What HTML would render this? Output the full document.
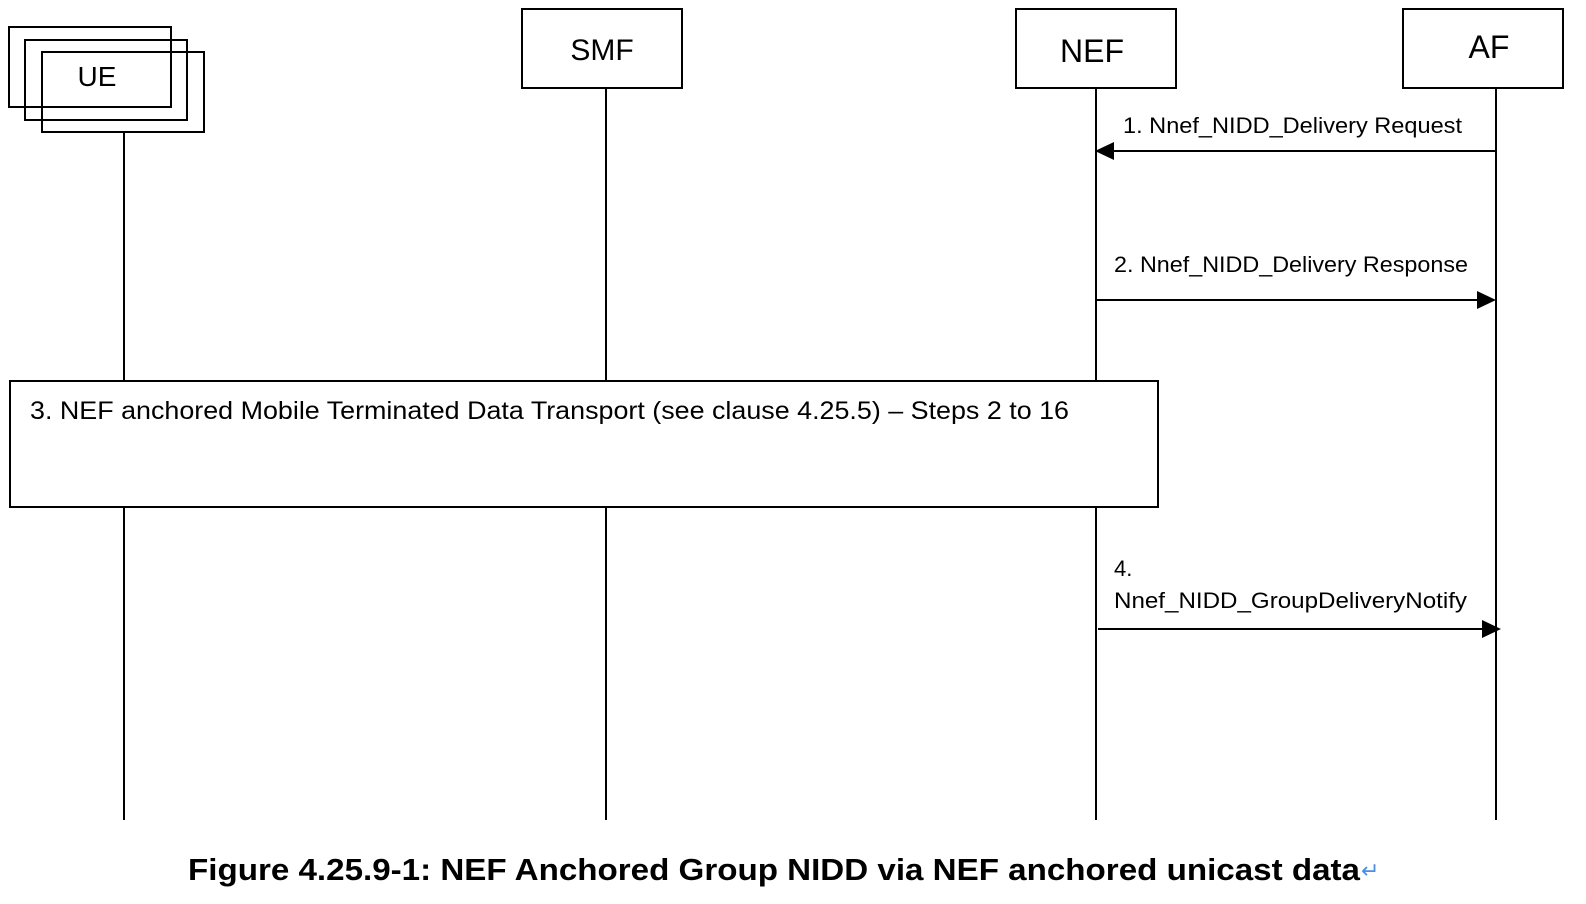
<!DOCTYPE html>
<html><head><meta charset="utf-8"><style>
html,body{margin:0;padding:0;background:#fff;width:1586px;height:904px;overflow:hidden}
svg{display:block}
text{font-family:"Liberation Sans",sans-serif;fill:#000}
</style></head><body>
<svg width="1586" height="904" viewBox="0 0 1586 904">
<g fill="#fff" stroke="#000" stroke-width="2">
<rect x="9" y="27" width="162" height="80"/>
<rect x="25" y="40" width="162" height="80" fill="none"/>
<rect x="42" y="52" width="162" height="80" fill="none"/>
<rect x="522" y="9" width="160" height="79"/>
<rect x="1016" y="9" width="160" height="79"/>
<rect x="1403" y="9" width="160" height="79"/>
</g>
<g stroke="#000" stroke-width="2">
<line x1="124" y1="132" x2="124" y2="820"/>
<line x1="606" y1="88" x2="606" y2="820"/>
<line x1="1096" y1="88" x2="1096" y2="820"/>
<line x1="1496" y1="88" x2="1496" y2="820"/>
<line x1="1496" y1="151" x2="1112" y2="151"/>
<line x1="1096" y1="300" x2="1480" y2="300"/>
<line x1="1098" y1="629" x2="1484" y2="629"/>
</g>
<polygon points="1095,151 1114,142 1114,160" fill="#000"/>
<polygon points="1496,300 1477,291 1477,309" fill="#000"/>
<polygon points="1501,629 1482,620 1482,638" fill="#000"/>
<rect x="10" y="381" width="1148" height="126" fill="#fff" stroke="#000" stroke-width="2"/>
<text x="97" y="86" font-size="28" text-anchor="middle">UE</text>
<text x="602" y="60" font-size="30" text-anchor="middle">SMF</text>
<text x="1092" y="62" font-size="32" text-anchor="middle">NEF</text>
<text x="1489" y="58" font-size="32" text-anchor="middle">AF</text>
<text x="1123" y="133" font-size="22" textLength="339" lengthAdjust="spacingAndGlyphs">1. Nnef_NIDD_Delivery Request</text>
<text x="1114" y="272" font-size="22" textLength="354" lengthAdjust="spacingAndGlyphs">2. Nnef_NIDD_Delivery Response</text>
<text x="1114" y="576" font-size="22">4.</text>
<text x="1114" y="608" font-size="22" textLength="353" lengthAdjust="spacingAndGlyphs">Nnef_NIDD_GroupDeliveryNotify</text>
<text x="30" y="419" font-size="25" textLength="1039" lengthAdjust="spacingAndGlyphs">3. NEF anchored Mobile Terminated Data Transport (see clause 4.25.5)  – Steps 2 to 16</text>
<text x="188" y="880" font-size="31" font-weight="bold" textLength="1172" lengthAdjust="spacingAndGlyphs">Figure 4.25.9-1: NEF Anchored Group NIDD via NEF anchored unicast data</text>
<text x="1361" y="878" font-size="22" style="fill:#4a90e2">↵</text>
</svg>
</body></html>
